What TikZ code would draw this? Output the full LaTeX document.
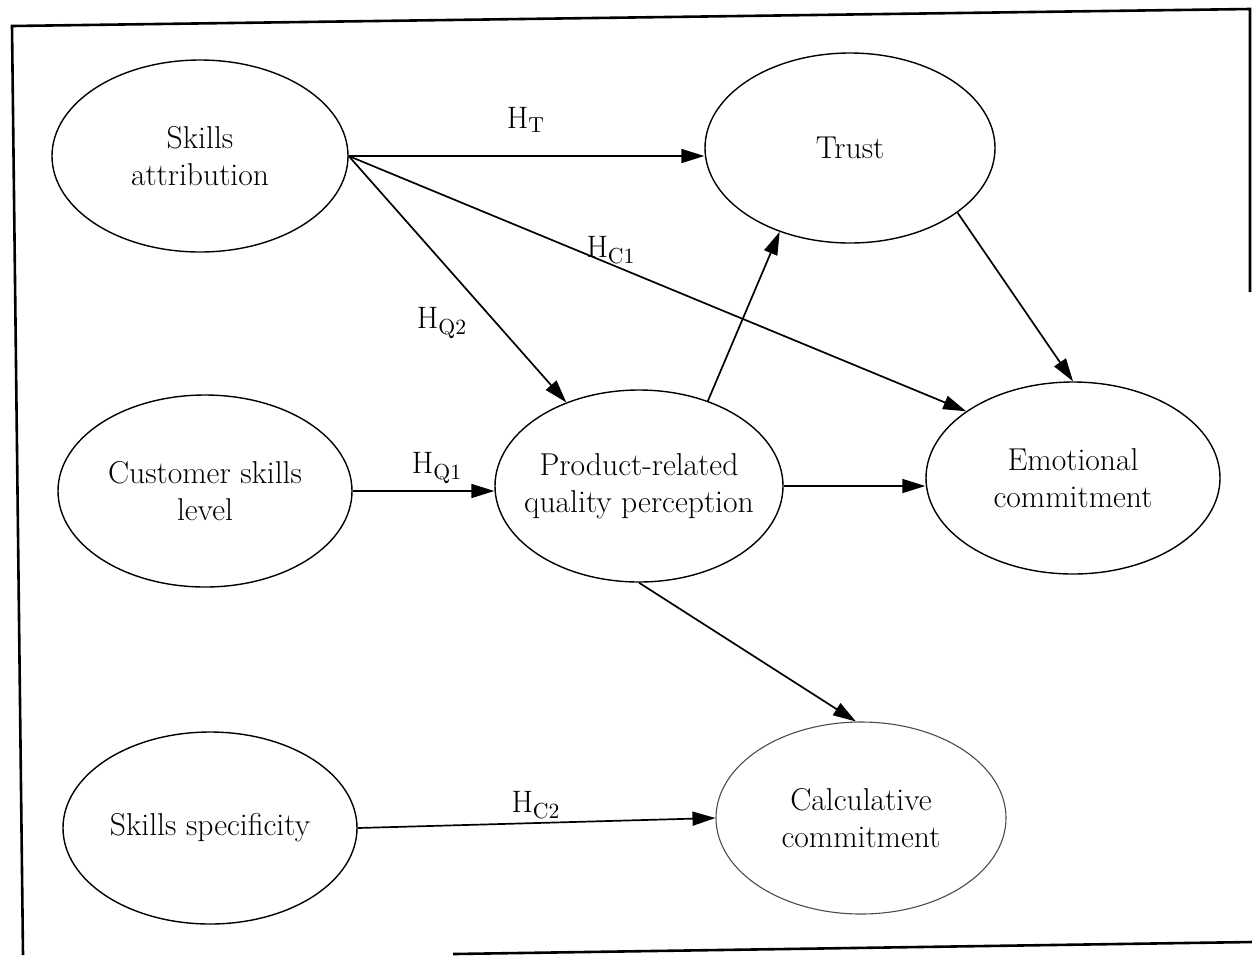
\documentclass[tikz,border=0pt]{standalone}
\usetikzlibrary{shapes.geometric,arrows.meta}

\tikzset{
  construct/.style={draw=black, line width=0.7pt, ellipse, inner sep=0pt,
    minimum width=147pt, minimum height=96pt},
  ctext/.style={align=center, inner sep=0pt, font=\fontsize{15.8}{18.5}\selectfont},
  hyp/.style={inner sep=0pt, font=\fontsize{15.5}{18}\selectfont},
  path arrow/.style={draw=black, line width=0.85pt,
    -{Triangle[length=11.5pt,width=7pt]}},
  frame line/.style={draw=black, line width=1.3pt}
}

\begin{document}
\begin{tikzpicture}[x=0.5pt, y=-0.5pt]
  \useasboundingbox (0,0) rectangle (1252,955);

  % outer frame (scanned, slightly skewed)
  \draw[frame line] (1250,292) -- (1250,9) -- (12,26) -- (23,955);
  \draw[frame line] (453,954) -- (1252,942);

  % constructs
  \node[construct, minimum width=148pt] (sa) at (200,156) {};
  \node[ctext] (sa-t) at (sa) {Skills\\attribution};

  \node[construct, minimum width=145pt, minimum height=95pt] (trust) at (850,148) {};
  \node[ctext] (trust-t) at (trust) {Trust};

  \node[construct] (csl) at (205,491) {};
  \node[ctext] (csl-t) at (csl) {Customer skills\\level};

  \node[construct, minimum width=144pt] (prod) at (639,486) {};
  \node[ctext] (prod-t) at (prod) {Product-related\\quality perception};

  \node[construct] (emo) at (1073,478) {};
  \node[ctext] (emo-t) at (emo) {Emotional\\commitment};

  \node[construct] (ss) at (210,828) {};
  \node[ctext] (ss-t) at (ss) {Skills specificity};

  \node[construct, minimum width=145pt, draw=black!70, line width=0.55pt] (calc) at (861,818) {};
  \node[ctext] (calc-t) at (calc) {Calculative\\commitment};

  % hypothesised paths
  \draw[path arrow] (sa.east) -- (sa.east -| trust.west);
  \draw[path arrow] (sa.east) -- (emo.148);
  \draw[path arrow] (sa.east) -- (prod.131);
  \draw[path arrow] (csl.east) -- (csl.east -| prod.west);
  \draw[path arrow] (prod.51) -- (trust.230);
  \draw[path arrow] (trust.-31) -- (emo.90);
  \draw[path arrow] (prod.east) -- (prod.east -| emo.west);
  \draw[path arrow] (prod.south) -- (calc.93);
  \draw[path arrow] (ss.east) -- (calc.west);

  % hypothesis labels
  \node[hyp] (hT)  at (526,120) {H\textsubscript{T}};
  \node[hyp] (hC1) at (611,250) {H\textsubscript{C1}};
  \node[hyp] (hQ2) at (442,323) {H\textsubscript{Q2}};
  \node[hyp] (hQ1) at (437,468) {H\textsubscript{Q1}};
  \node[hyp] (hC2) at (536,805) {H\textsubscript{C2}};
\end{tikzpicture}
\end{document}
